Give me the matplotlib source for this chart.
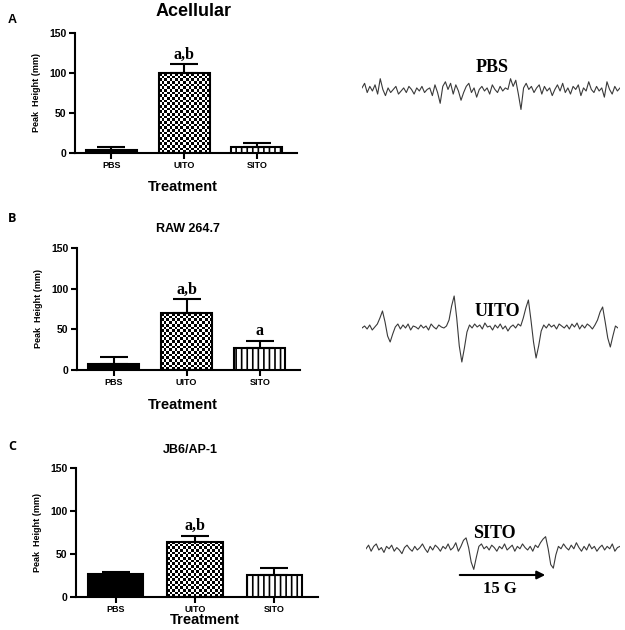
import numpy as np
import matplotlib
matplotlib.use("Agg")
import matplotlib.pyplot as plt

# ---- DATA ----
treatments = ["PBS", "UITO", "SITO"]

acellular_mean = [4, 100, 7]
acellular_err = [3, 11, 5]
acellular_marks = ["", "a,b", ""]

raw_mean = [7, 70, 27]
raw_err = [9, 17, 9]
raw_marks = ["", "a,b", "a"]

jb6_mean = [27, 64, 26]
jb6_err = [2, 7, 8]
jb6_marks = ["", "a,b", ""]

# EPR traces (relative deflection)
pbs_trace = [2, 5, -1, 3, 0, 4, -2, 8, 1, -3, 2, -1, 1, 3, -2, 0, 2, -1, 3, 1,
             -2, 2, 0, 3, -1, 1, 2, -3, 4, -1, -8, 3, 6, 1, 5, -2, 4, 0, -6, -1,
             3, 5, -1, 2, -4, 1, 3, 0, 2, -2, 4, 1, -1, 3, 0, 2, 1, 8, 3, 7,
             -2, -12, 2, 5, 1, 3, -1, 2, 4, -2, 3, 0, 2, -3, 1, 4, 0, 5, -1, 2,
             -2, 3, 1, 4, -3, 2, 0, 6, 1, -1, 3, 0, 2, -4, 6, 1, -2, 3, 0, 2]

uito_trace = [0, 2, -1, 3, -2, 1, 4, 10, 17, 6, -8, -14, -6, 1, 4, -1, 3, 0, 4, -2,
              2, 1, -1, 3, 0, 2, -2, 4, 1, -1, 3, 1, 0, 2, 8, 22, 32, 10, -18, -34,
              -20, -4, 3, 0, 4, 1, 3, -1, 5, 1, 2, -2, 3, 0, 4, -1, 2, -3, 1, 3,
              0, 4, 2, 10, 20, 28, 8, -14, -30, -18, -3, 3, 0, 4, 1, 3, -1, 4, 2, 0,
              3, -1, 4, 1, 5, -1, 3, 0, 4, 2, -1, 3, 8, 16, 21, 6, -10, -19, -8, 2, 0]

sito_trace = [1, 4, -1, 3, 5, 0, 2, -2, 3, 1, 4, -1, 2, 0, -3, 2, 4, 1, -1, 3,
              0, 2, 5, 1, -2, 3, 0, 4, 2, -1, 3, 1, 5, 0, 2, 6, -1, 3, 8, 10,
              2, -10, -16, -6, 3, 5, 1, 3, 0, 4, 2, -1, 3, 1, 5, 0, 2, 4, -1, 3,
              1, 5, 2, 0, 3, -1, 4, 2, 6, 9, 11, 1, -12, -15, -4, 3, 1, 5, 2, 0,
              4, 1, 6, 2, -1, 3, 0, 5, 1, 3, -1, 2, 4, 0, 3, 1, 5, -1, 2, 3]

# ---- FIGURE ----
W, H = 625, 630
fig = plt.figure(figsize=(W / 100, H / 100), dpi=100)
plt.rcParams["hatch.linewidth"] = 1.2
SANS = "Liberation Sans"
SERIF = "Liberation Serif"


def add_px_axes(left, right, top, bottom):
    return fig.add_axes([left / W, 1 - bottom / H, (right - left) / W, (bottom - top) / H])


def fig_text(x, y, s, **kw):
    fig.text(x / W, 1 - y / H, s, ha="center", va="center", **kw)


def checker_fill(ax, bar, cell=2.6):
    # checkerboard texture clipped to the bar
    x0, y0 = bar.get_x(), bar.get_y()
    x1, y1 = x0 + bar.get_width(), y0 + bar.get_height()
    p0 = ax.transData.transform((x0, y0))
    p1 = ax.transData.transform((x1, y1))
    nx = max(int(abs(p1[0] - p0[0]) / cell), 1)
    ny = max(int(abs(p1[1] - p0[1]) / cell), 1)
    yy, xx = np.indices((ny, nx))
    img = (xx + yy) % 2
    im = ax.imshow(img, cmap="gray", extent=(x0, x1, y0, y1), aspect="auto",
                   interpolation="nearest", zorder=2)
    im.set_clip_path(bar)


def bar_panel(box, means, errs, marks):
    ax = add_px_axes(*box)
    x = np.arange(len(treatments))
    ax.set_xlim(-0.5, 2.55)
    ax.set_ylim(0, 150)
    bars = ax.bar(x, means, width=0.7, edgecolor="black", linewidth=1.5, zorder=3)
    bars[0].set_facecolor("black")
    bars[1].set_facecolor("none")
    bars[2].set_facecolor("white")
    bars[2].set_hatch("|||")
    checker_fill(ax, bars[1])
    ax.errorbar(x, means, yerr=[[0] * len(errs), errs], fmt="none", ecolor="black",
                elinewidth=1.5, capsize=10, capthick=1.5, zorder=4)
    for xi, m, e, s in zip(x, means, errs, marks):
        if s:
            ax.text(xi, m + e + 2, s, ha="center", va="bottom", family=SERIF,
                    fontweight="bold", fontsize=11.5)
    for side in ["top", "right"]:
        ax.spines[side].set_visible(False)
    ax.spines["left"].set_linewidth(1.5)
    ax.spines["bottom"].set_linewidth(1.5)
    ax.set_yticks([0, 50, 100, 150])
    ax.set_xticks(x)
    ax.set_xticklabels(treatments)
    ax.tick_params(axis="both", width=1.5, length=4, pad=2)
    for lab in ax.get_yticklabels():
        lab.set_fontsize(7.5)
        lab.set_fontweight("bold")
        lab.set_family(SANS)
    for lab in ax.get_xticklabels():
        lab.set_fontsize(6.5)
        lab.set_fontweight("bold")
        lab.set_family(SANS)
    ax.set_ylabel("Peak  Height (mm)", fontsize=6.5, fontweight="bold", family=SANS, labelpad=6)
    return ax


bar_panel((75, 297, 33, 153), acellular_mean, acellular_err, acellular_marks)
bar_panel((77, 300, 248, 370), raw_mean, raw_err, raw_marks)
bar_panel((76, 318, 468, 597), jb6_mean, jb6_err, jb6_marks)

# titles, labels
fig_text(194, 11, "Acellular", fontsize=13, fontweight="bold", family=SANS)
fig_text(188, 229, "RAW 264.7", fontsize=9, fontweight="bold", family=SANS)
fig_text(190, 450, "JB6/AP-1", fontsize=9, fontweight="bold", family=SANS)
fig_text(183, 187, "Treatment", fontsize=10.5, fontweight="bold", family=SANS)
fig_text(183, 405, "Treatment", fontsize=10.5, fontweight="bold", family=SANS)
fig_text(205, 620, "Treatment", fontsize=10.5, fontweight="bold", family=SANS)
fig_text(12, 20, "A", fontsize=9, fontweight="bold", family=SANS)
fig_text(12, 218, "B", fontsize=9, fontweight="bold", family="Open Sans")
fig_text(12, 447, "C", fontsize=9, fontweight="bold", family="Open Sans")


# ---- EPR TRACES ----
def trace_panel(left, right, mid, values, half):
    ax = add_px_axes(left, right, mid - 40, mid + 40)
    ax.plot(np.arange(len(values)), values, color="#3a3a3a", linewidth=0.8)
    ax.set_xlim(0, len(values) - 1)
    ax.set_ylim(-half, half)
    ax.axis("off")
    return ax


trace_panel(362, 620, 91, pbs_trace, 26)
trace_panel(362, 618, 328, uito_trace, 40)
trace_panel(366, 620, 550, sito_trace, 33)

fig_text(492, 67, "PBS", fontsize=13, fontweight="bold", family=SERIF)
fig_text(497, 312, "UITO", fontsize=13, fontweight="bold", family=SERIF)
fig_text(494, 533, "SITO", fontsize=13, fontweight="bold", family=SERIF)

fig.patches.append(matplotlib.patches.FancyArrowPatch(
    (457 / W, 1 - 575 / H), (548 / W, 1 - 575 / H), transform=fig.transFigure,
    arrowstyle="-|>", mutation_scale=12, linewidth=1.5, color="black"))
fig_text(500, 589, "15 G", fontsize=12, fontweight="bold", family=SERIF)

fig.savefig("out.png", dpi=100)
